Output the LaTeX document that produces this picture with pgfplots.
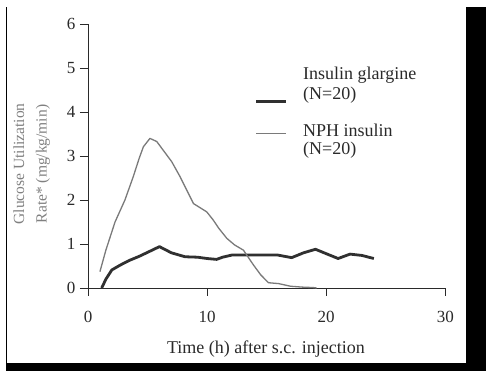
\documentclass[border=0pt]{standalone}
\usepackage{pgfplots}
\pgfplotsset{compat=1.18}
\usepackage{fontspec}
\setmainfont{Liberation Serif}
\definecolor{glar}{HTML}{303030}
\definecolor{nph}{HTML}{7A7A7A}
\definecolor{ylab}{HTML}{808080}
\definecolor{tickc}{HTML}{2A2A2A}
\begin{document}
\begin{tikzpicture}[x=1pt,y=1pt]
\path[use as bounding box,fill=white] (0,0) rectangle (486,371);
% frame
\fill[black] (466,0) rectangle (486,364.3);
\fill[black] (6,0) rectangle (486,8.3);
\fill[black] (6,0) rectangle (7.2,364.3);
\begin{axis}[
  at={(88pt,83pt)}, anchor=south west,
  scale only axis, width=357.3pt, height=264pt,
  xmin=0, xmax=30, ymin=0, ymax=6,
  axis lines=left, axis line style={tickc, line width=0.9pt, -},
  xtick={0,10,20,30}, ytick={0,1,2,3,4,5,6},
  tick align=outside, major tick length=8pt,
  tick style={tickc, line width=0.9pt},
  every tick label/.append style={font=\fontsize{17}{20}\selectfont, text=tickc},
  /pgf/number format/assume math mode=true,
  xticklabel style={yshift=-12pt},
  yticklabel style={xshift=-1pt},
  clip=false,
]
\addplot[glar, line width=2.8pt, line join=round] coordinates {
(1.15,0) (1.5,0.2) (2.0,0.41) (2.7,0.52) (3.5,0.63) (4.3,0.72) (5.0,0.81) (6.0,0.94)
(7.0,0.80) (8.15,0.71) (9.2,0.70) (10.0,0.67) (10.8,0.65) (11.3,0.70) (12.1,0.75)
(14.0,0.75) (15.9,0.75) (17.1,0.69) (18.1,0.80) (19.1,0.88) (20.0,0.78) (21.0,0.67)
(22.0,0.77) (23.0,0.74) (24.0,0.67)};
\addplot[nph, line width=1.3pt, line join=round] coordinates {
(1.0,0.37) (1.5,0.86) (2.27,1.5) (3.1,2.0) (3.8,2.53) (4.3,2.95) (4.65,3.21) (5.2,3.40)
(5.77,3.33) (6.4,3.1) (7.03,2.87) (7.73,2.53) (8.3,2.22) (8.85,1.92) (9.97,1.73)
(10.5,1.55) (11.0,1.35) (11.65,1.13) (12.3,0.98) (13.05,0.86) (13.5,0.68) (13.9,0.52)
(14.5,0.30) (15.15,0.12) (16.0,0.10) (17.0,0.04) (18.0,0.02) (18.9,0.01) (19.2,0)};
\end{axis}
% legend
\draw[glar, line width=2.8pt] (256,269.3) -- (286,269.3);
\draw[nph, line width=1.3pt] (256,237.7) -- (286,237.7);
\begin{scope}[every node/.style={anchor=base west, inner sep=0pt, font=\fontsize{18}{21}\selectfont, text=tickc}]
\node at (303,291) {Insulin glargine};
\node at (303,271.5) {(N=20)};
\node at (303,234.3) {NPH insulin};
\node at (303,216) {(N=20)};
\end{scope}
% axis labels
\node[anchor=base, inner sep=0pt, font=\fontsize{18}{21}\selectfont, text=tickc] at (266,17) {Time (h) after s.c. injection};
\node[anchor=base, rotate=90, inner sep=0pt, font=\fontsize{15.5}{18}\selectfont, text=ylab] at (24,207) {Glucose Utilization};
\node[anchor=base, rotate=90, inner sep=0pt, font=\fontsize{15.5}{18}\selectfont, text=ylab] at (46.7,207) {Rate* (mg/kg/min)};
\end{tikzpicture}
\end{document}
